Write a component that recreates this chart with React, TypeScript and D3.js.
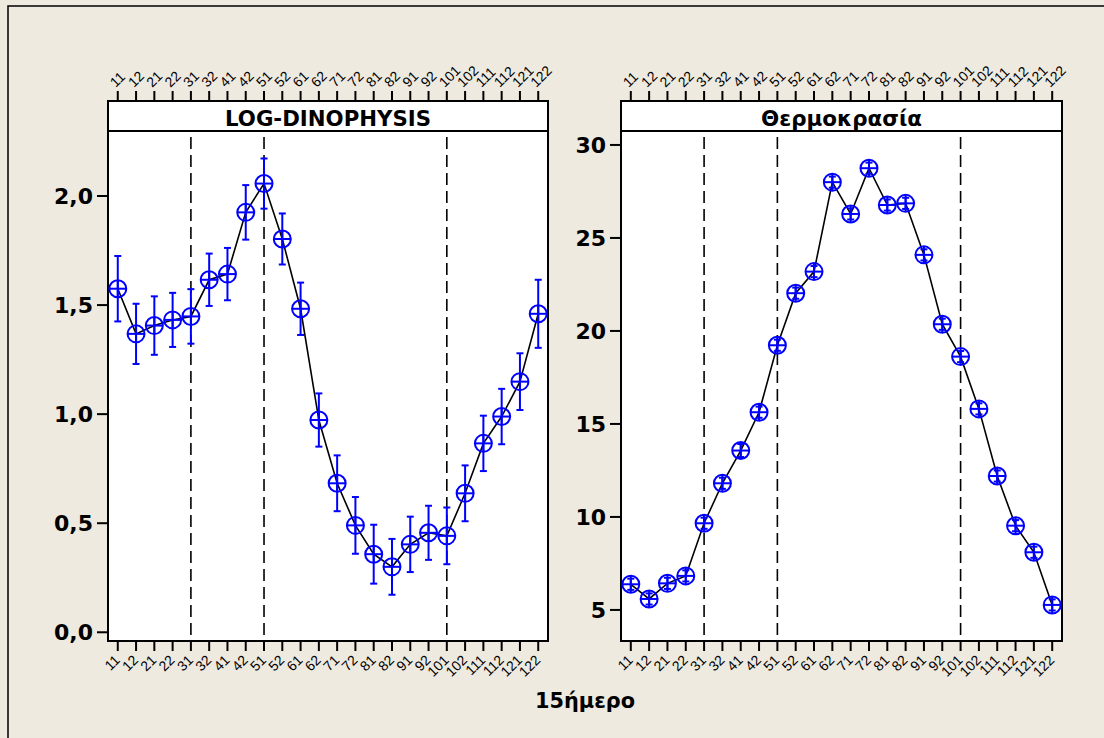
import React, { useEffect } from "react";
import * as d3 from "d3";

const categories = ["11","12","21","22","31","32","41","42","51","52","61","62","71","72","81","82","91","92","101","102","111","112","121","122"];
const dinoMean = [1.575,1.368,1.406,1.432,1.448,1.616,1.642,1.925,2.057,1.803,1.483,0.973,0.683,0.49,0.358,0.30,0.403,0.456,0.442,0.637,0.866,0.989,1.149,1.46];
const dinoErr = [0.15,0.138,0.134,0.124,0.125,0.12,0.12,0.125,0.115,0.117,0.12,0.122,0.128,0.13,0.135,0.128,0.127,0.124,0.13,0.128,0.127,0.127,0.13,0.156];
const tempMean = [6.38,5.59,6.43,6.83,9.66,11.81,13.57,15.63,19.23,22.03,23.19,28.0,26.29,28.75,26.77,26.86,24.09,20.36,18.62,15.81,12.2,9.53,8.1,5.27];
const tempErr = [0.3,0.3,0.3,0.3,0.3,0.3,0.35,0.3,0.3,0.3,0.3,0.3,0.3,0.3,0.3,0.3,0.3,0.3,0.3,0.3,0.3,0.3,0.3,0.3];
const dinoTicks = [0, 0.5, 1.0, 1.5, 2.0];
const tempTicks = [5, 10, 15, 20, 25, 30];
const refLines = ["31", "51", "101"];
const titles = ["LOG-DINOPHYSIS", "Θερμοκρασία"];
const xTitle = "15ήμερο";

const FONT = "'Liberation Sans', Arial, sans-serif";
const BOLD = "'DejaVu Sans', Verdana, sans-serif";
const BLUE = "#0000ff";

type PanelProps = {
  x0: number; x1: number; title: string; titleLen: number;
  mean: number[]; err: number[]; domain: [number, number]; ticks: number[];
  fmt: (v: number) => string;
};

function Panel({ x0, x1, title, titleLen, mean, err, domain, ticks, fmt }: PanelProps) {
  const headTop = 101, plotTop = 131, plotBottom = 641;
  const x = d3.scalePoint<string>().domain(categories).range([x0, x1]).padding(0.535);
  const y = d3.scaleLinear().domain(domain).range([plotBottom, plotTop]);
  const line = d3.line<number>().x((_, i) => x(categories[i]) as number).y((d) => y(d));
  const r = 8.5;
  return (
    <g>
      <rect x={x0} y={headTop} width={x1 - x0} height={plotBottom - headTop} fill="#fff" stroke="#000" strokeWidth={2} />
      <line x1={x0} x2={x1} y1={plotTop} y2={plotTop} stroke="#000" strokeWidth={2} />
      <text x={(x0 + x1) / 2} y={126} textAnchor="middle" fontFamily={BOLD} fontWeight="bold" fontSize={21}
        textLength={titleLen} lengthAdjust="spacingAndGlyphs">{title}</text>
      {refLines.map((c) => (
        <line key={c} x1={x(c)} x2={x(c)} y1={plotTop + 6} y2={plotBottom} stroke="#000" strokeWidth={1.6} strokeDasharray="12,6" />
      ))}
      {categories.map((c) => (
        <g key={c}>
          <line x1={x(c)} x2={x(c)} y1={headTop} y2={headTop - 10} stroke="#000" strokeWidth={2} />
          <line x1={x(c)} x2={x(c)} y1={plotBottom} y2={plotBottom + 10} stroke="#000" strokeWidth={2} />
          <text transform={`translate(${(x(c) as number) - 2},${headTop - 13}) rotate(-45)`} fontFamily={FONT} fontSize={14}>{c}</text>
          <text transform={`translate(${(x(c) as number) + 3},${plotBottom + 20}) rotate(-45)`} textAnchor="end" fontFamily={FONT} fontSize={14}>{c}</text>
        </g>
      ))}
      {ticks.map((t) => (
        <g key={t}>
          <line x1={x0} x2={x0 - 11} y1={y(t)} y2={y(t)} stroke="#000" strokeWidth={2} />
          <text x={x0 - 15} y={y(t)} dy="0.37em" textAnchor="end" fontFamily={BOLD} fontWeight="bold" fontSize={22}>{fmt(t)}</text>
        </g>
      ))}
      <path d={line(mean) || ""} fill="none" stroke="#000" strokeWidth={1.6} />
      {mean.map((m, i) => {
        const cx = x(categories[i]) as number;
        const cy = y(m);
        const yt = y(m + err[i]);
        const yb = y(m - err[i]);
        return (
          <g key={i} stroke={BLUE} strokeWidth={2} fill="none">
            <line x1={cx} x2={cx} y1={yt} y2={yb} />
            <line x1={cx - 3.5} x2={cx + 3.5} y1={yt} y2={yt} />
            <line x1={cx - 3.5} x2={cx + 3.5} y1={yb} y2={yb} />
            <circle cx={cx} cy={cy} r={r} />
            <line x1={cx - r} x2={cx + r} y1={cy} y2={cy} />
            <line x1={cx} x2={cx} y1={cy - r} y2={cy + r} />
          </g>
        );
      })}
    </g>
  );
}

export default function App() {
  useEffect(() => {
    document.body.style.margin = "0";
  }, []);
  const comma = (v: number) => d3.format(".1f")(v).replace(".", ",");
  return (
    <svg width={1104} height={738} style={{ display: "block" }}>
      <rect x={0} y={0} width={1104} height={738} fill="#eeeae0" />
      <path d="M8,738 L8,6 L1104,6" fill="none" stroke="#000" strokeWidth={1.5} />
      <Panel x0={108} x1={548} title={titles[0]} titleLen={206} mean={dinoMean} err={dinoErr}
        domain={[-0.04, 2.298]} ticks={dinoTicks} fmt={comma} />
      <Panel x0={621} x1={1062} title={titles[1]} titleLen={161} mean={tempMean} err={tempErr}
        domain={[3.33, 30.75]} ticks={tempTicks} fmt={(v) => String(v)} />
      <text x={585} y={708} textAnchor="middle" fontFamily={BOLD} fontWeight="bold" fontSize={21}
        textLength={100} lengthAdjust="spacingAndGlyphs">{xTitle}</text>
    </svg>
  );
}
